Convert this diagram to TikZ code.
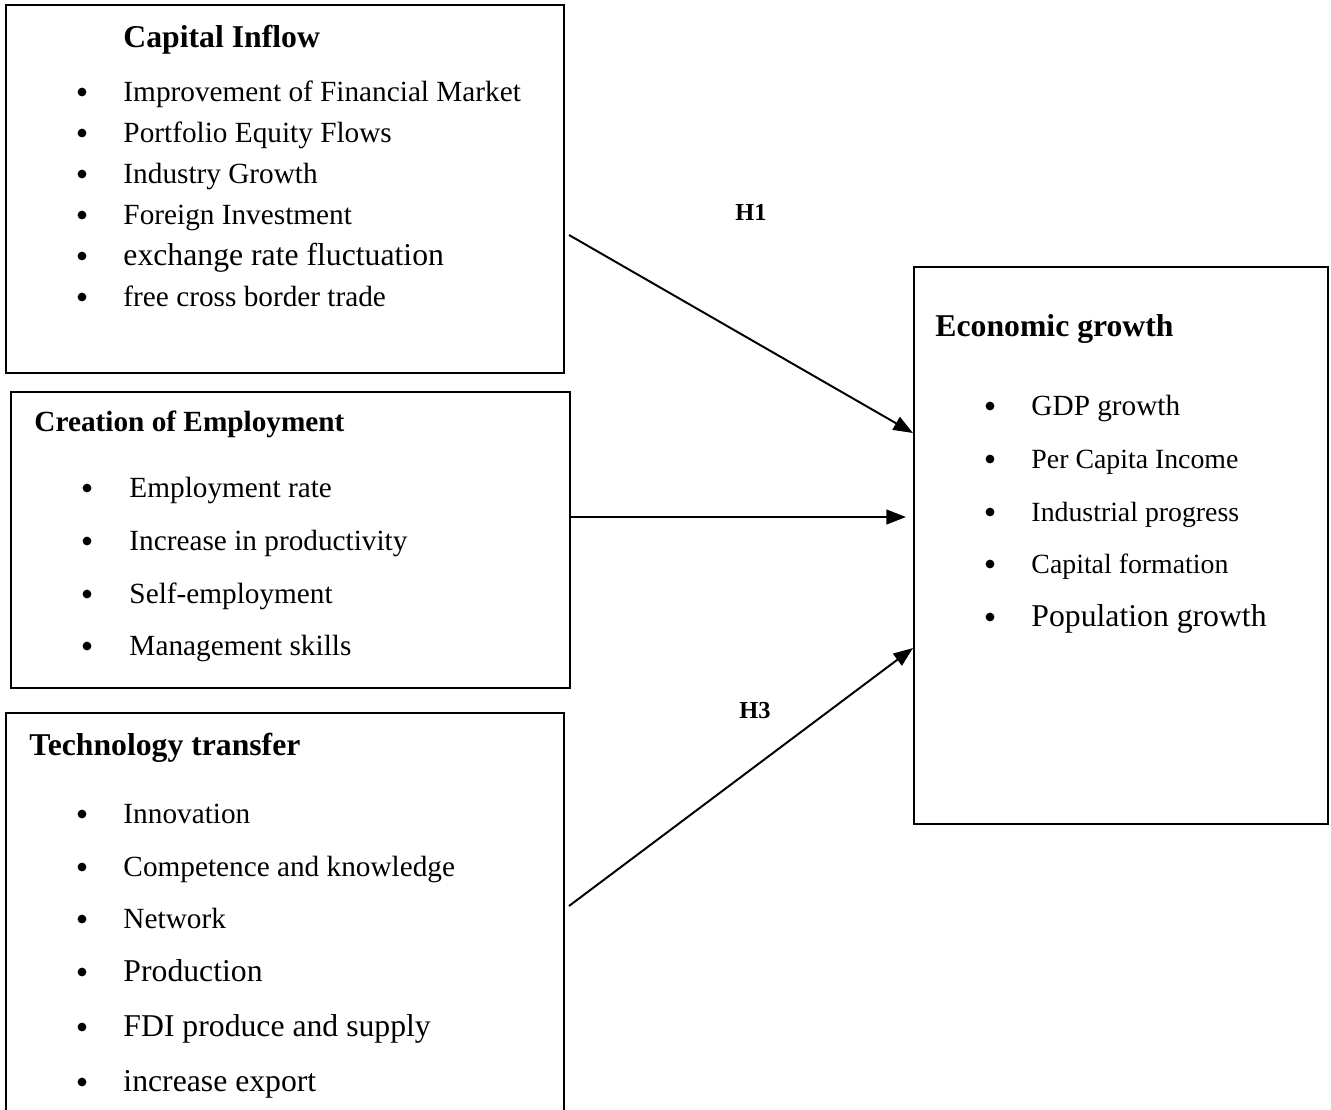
\documentclass[tikz,border=0pt]{standalone}
\usepackage{fontspec}
\setmainfont{Liberation Serif}
\usetikzlibrary{arrows.meta,fit}

\tikzset{box/.style = {draw, line width=0.6pt, inner sep=0pt}}
\tikzset{head/.style = {anchor=base west, inner sep=0pt, font=\bfseries\fontsize{13}{15}\selectfont}}
\tikzset{item/.style = {anchor=base west, inner sep=0pt}}
\tikzset{dot/.style = {circle, fill, inner sep=0pt, minimum size=3.6pt}}
\tikzset{link/.style = {-{Triangle[length=8pt,width=6pt]}, line width=0.8pt}}
\tikzset{hyp/.style = {anchor=base west, inner sep=0pt, font=\bfseries\fontsize{10}{12}\selectfont}}

\begin{document}
\begin{tikzpicture}[x=0.41pt, y=-0.41pt]
  \useasboundingbox (0,0) rectangle (1331,1109);

  % boxes
  \node[box, fit={(6,5) (564,373)}] (cap) {};
  \node[box, fit={(11,392) (570,688)}] (emp) {};
  \node[box, fit={(6,713) (564,1116)}] (tech) {};
  \node[box, fit={(914,267) (1328,824)}] (eco) {};

  % capital inflow
  \node[head] (cap-t) at (123,47) {Capital Inflow};
  \foreach \y/\s/\t [count=\i] in {101/12/Improvement of Financial Market,
      142/12/Portfolio Equity Flows, 183/12/Industry Growth,
      224/12/Foreign Investment, 265/13/exchange rate fluctuation,
      306/12/free cross border trade}
  {
    \node[dot] (cap-b\i) at (82,\y-9) {};
    \node[item, font=\fontsize{\s}{\s}\selectfont] (cap-\i) at (123,\y) {\t};
  }

  % creation of employment
  \node[head, font=\bfseries\fontsize{12}{14}\selectfont] (emp-t) at (34,431) {Creation of Employment};
  \foreach \y/\t [count=\i] in {497/Employment rate, 550/Increase in productivity,
      603/Self-employment, 655/Management skills}
  {
    \node[dot] (emp-b\i) at (87,\y-9) {};
    \node[item, font=\fontsize{12}{14}\selectfont] (emp-\i) at (129,\y) {\t};
  }

  % technology transfer
  \node[head] (tech-t) at (29,755) {Technology transfer};
  \foreach \y/\s/\t [count=\i] in {823/12/Innovation, 876/12/Competence and knowledge,
      928/12/Network, 981/13/Production, 1036/13/FDI produce and supply,
      1091/13/increase export}
  {
    \node[dot] (tech-b\i) at (82,\y-9) {};
    \node[item, font=\fontsize{\s}{\s}\selectfont] (tech-\i) at (123,\y) {\t};
  }

  % economic growth
  \node[head] (eco-t) at (935,336) {Economic growth};
  \foreach \y/\s/\t [count=\i] in {415/12/GDP growth, 468/11.4/Per Capita Income,
      521/11.4/Industrial progress, 573/11.4/Capital formation,
      626/13/Population growth}
  {
    \node[dot] (eco-b\i) at (990,\y-9) {};
    \node[item, font=\fontsize{\s}{\s}\selectfont] (eco-\i) at (1031,\y) {\t};
  }

  % hypotheses
  \node[hyp] (h1) at (735,220) {H1};
  \node[hyp] (h3) at (739,718) {H3};

  \coordinate (h1a) at (569,235);
  \coordinate (h1b) at (913,433);
  \coordinate (h2a) at (570,517);
  \coordinate (h2b) at (906,517);
  \coordinate (h3a) at (569,906);
  \coordinate (h3b) at (913,648);

  \draw[link] (h1a) -- (h1b);
  \draw[link] (h2a) -- (h2b);
  \draw[link] (h3a) -- (h3b);
\end{tikzpicture}
\end{document}
